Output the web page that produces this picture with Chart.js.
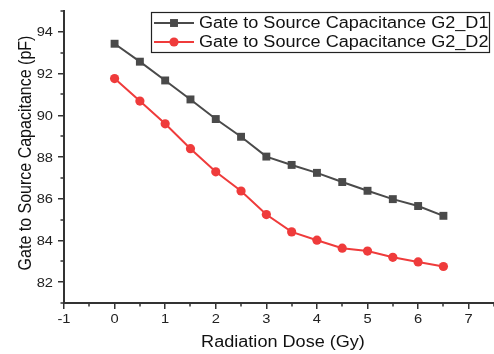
<!DOCTYPE html>
<html>
<head>
<meta charset="utf-8">
<script src="https://cdn.jsdelivr.net/npm/chart.js@4/dist/chart.umd.min.js"></script>
<style>
  html, body { margin: 0; padding: 0; background: #fff; }
  #wrap { width: 494px; height: 354px; }
</style>
</head>
<body>
<div id="wrap"><canvas id="cap" width="494" height="354"></canvas></div>
<script>
var doses = [0, 0.5, 1, 1.5, 2, 2.5, 3, 3.5, 4, 4.5, 5, 5.5, 6, 6.5];
var capD1 = [93.43, 92.57, 91.67, 90.76, 89.82, 88.97, 88.02, 87.62, 87.24, 86.80, 86.38, 85.98, 85.65, 85.18];
var capD2 = [91.76, 90.68, 89.59, 88.40, 87.29, 86.37, 85.24, 84.41, 84.01, 83.63, 83.49, 83.19, 82.97, 82.75];
var xTicks = [-1, 0, 1, 2, 3, 4, 5, 6, 7];
var yTicks = [82, 84, 86, 88, 90, 92, 94];
var xMinor = [-0.5, 0.5, 1.5, 2.5, 3.5, 4.5, 5.5, 6.5, 7.5];
var yMinor = [81, 83, 85, 87, 89, 91, 93, 95];
var labels = ["Gate to Source Capacitance G2_D1", "Gate to Source Capacitance G2_D2"];
var xTitle = "Radiation Dose (Gy)";
var yTitle = "Gate to Source Capacitance (pF)";

var color = {
	gray: "#4a4a4a"
  , red: "#ef3b3b"
  , axis: "#333333"
  , text: "#111111"
}
var fonts = "'Liberation Sans', Arial, sans-serif";
var stretch = 1.13;   // the picture is a bit wider than tall

function pairs(ys) {
	return doses.map(function (x, i) { return { x: x, y: ys[i] }; });
}

function wideText(ctx, txt, x, y, align, base, size, rot) {
	ctx.save();
	ctx.translate(x, y);
	if (rot) ctx.rotate(rot);
	if (rot) ctx.scale(1, stretch); else ctx.scale(stretch, 1);
	ctx.font = size + "px " + fonts;
	ctx.textAlign = align;
	ctx.textBaseline = base;
	ctx.fillText(txt, 0, 0);
	ctx.restore();
}

// tick labels, minor ticks, titles and legend box
var extras = {
	id: "extras",
	afterDraw: function (chart) {
		var ctx = chart.ctx
		  , xs = chart.scales.x
		  , ys = chart.scales.y
		  , area = chart.chartArea;
		ctx.save();
		ctx.strokeStyle = color.axis;
		ctx.lineWidth = 1.5;
		ctx.beginPath();
		xMinor.forEach(function (v) {
			var px = Math.round(xs.getPixelForValue(v));
			ctx.moveTo(px, area.bottom);
			ctx.lineTo(px, area.bottom + 3.5);
		});
		yMinor.forEach(function (v) {
			var py = Math.round(ys.getPixelForValue(v));
			ctx.moveTo(area.left, py);
			ctx.lineTo(area.left - 3.5, py);
		});
		ctx.stroke();

		ctx.fillStyle = "#222";
		xTicks.forEach(function (v) {
			wideText(ctx, String(v), xs.getPixelForValue(v), 323, "center", "alphabetic", 13);
		});
		yTicks.forEach(function (v) {
			wideText(ctx, String(v), 53, ys.getPixelForValue(v) + 4.5, "right", "alphabetic", 13);
		});

		ctx.fillStyle = color.text;
		wideText(ctx, xTitle, 283, 347, "center", "alphabetic", 16);
		wideText(ctx, yTitle, 31, 153, "center", "alphabetic", 16, -Math.PI / 2);

		// legend
		var bx = 151.5, by = 12.5, bw = 338, bh = 40;
		ctx.fillStyle = "#fff";
		ctx.fillRect(bx, by, bw, bh);
		ctx.strokeStyle = "#222";
		ctx.lineWidth = 1.2;
		ctx.strokeRect(bx, by, bw, bh);
		var rows = [
			{ c: color.gray, style: "rect", r: 5.6, y: 23, base: 28 },
			{ c: color.red, style: "circle", r: 4.6, y: 42, base: 47 }
		];
		rows.forEach(function (row, i) {
			ctx.strokeStyle = row.c;
			ctx.lineWidth = 2;
			ctx.beginPath();
			ctx.moveTo(154, row.y);
			ctx.lineTo(194, row.y);
			ctx.stroke();
			ctx.fillStyle = row.c;
			Chart.helpers.drawPoint(ctx, { pointStyle: row.style, radius: row.r, rotation: 0, borderWidth: 0 }, 174, row.y);
			ctx.fillStyle = color.text;
			wideText(ctx, labels[i], 199, row.base, "left", "alphabetic", 16);
		});
		ctx.restore();
	}
};

var options = {
	responsive: false,
	animation: false,
	layout: { autoPadding: false, padding: { left: 0, top: 11, right: 0, bottom: 0 } },
	plugins: { legend: { display: false }, tooltip: { enabled: false } },
	scales: {
		x: {
			type: "linear",
			min: -1,
			max: 7.5,
			afterBuildTicks: function (s) { s.ticks = xTicks.map(function (v) { return { value: v }; }); },
			afterFit: function (s) { s.height = 51; },
			border: { display: true, color: color.axis, width: 2 },
			grid: { drawOnChartArea: false, drawTicks: true, tickLength: 6, color: color.axis, lineWidth: 1.5 },
			ticks: { display: false }
		},
		y: {
			type: "linear",
			min: 81,
			max: 95,
			afterBuildTicks: function (s) { s.ticks = yTicks.map(function (v) { return { value: v }; }); },
			afterFit: function (s) { s.width = 64; },
			border: { display: true, color: color.axis, width: 2 },
			grid: { drawOnChartArea: false, drawTicks: true, tickLength: 6, color: color.axis, lineWidth: 1.5 },
			ticks: { display: false }
		}
	}
};

new Chart(document.getElementById("cap").getContext("2d"), {
	type: "scatter",
	data: {
		datasets: [
			{
				label: labels[0],
				data: pairs(capD1),
				showLine: true,
				borderColor: color.gray,
				backgroundColor: color.gray,
				borderWidth: 2,
				pointStyle: "rect",
				pointRadius: 5.6,
				pointBorderWidth: 0
			},
			{
				label: labels[1],
				data: pairs(capD2),
				showLine: true,
				borderColor: color.red,
				backgroundColor: color.red,
				borderWidth: 2,
				pointStyle: "circle",
				pointRadius: 4.6,
				pointBorderWidth: 0
			}
		]
	},
	options: options,
	plugins: [extras]
});
</script>
</body>
</html>
